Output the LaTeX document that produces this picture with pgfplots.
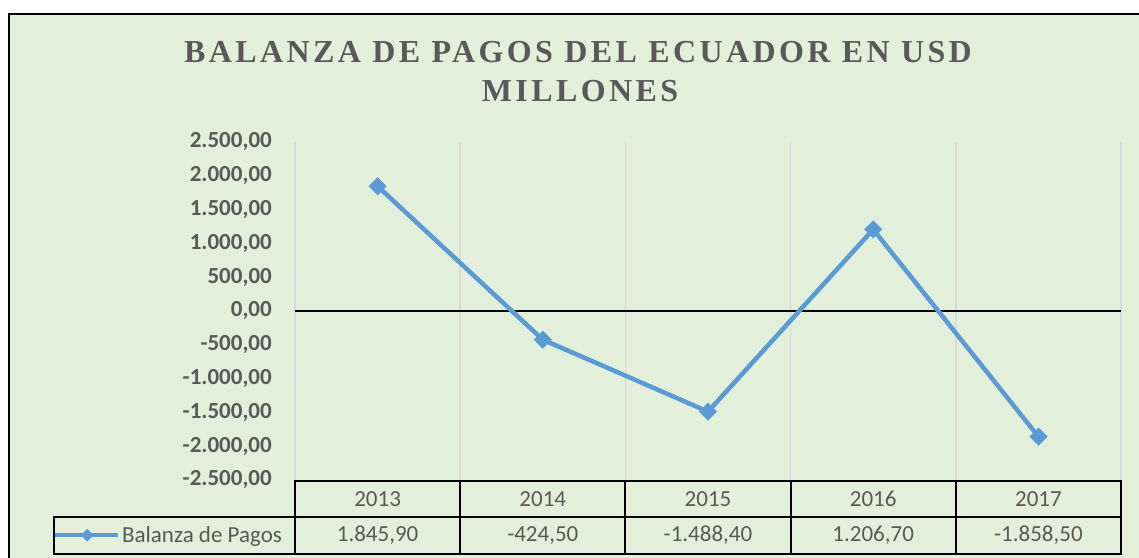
\documentclass[border=0pt]{standalone}
\usepackage{fontspec}
\setmainfont{Carlito}
\newfontfamily\titlefont[LetterSpace=10.6]{Liberation Serif}
\usepackage{pgfplots}
\pgfplotsset{compat=1.18}
\definecolor{chartGreen}{HTML}{E2EFDA}
\definecolor{lineBlue}{HTML}{5B9BD5}
\definecolor{textGrey}{HTML}{595959}
\definecolor{gridGrey}{HTML}{D9D9D9}

\begin{document}
\begin{tikzpicture}[x=1pt,y=1pt]
\useasboundingbox (0,0) rectangle (1139,557);
\fill[white] (0,0) rectangle (1139,557);
\begin{scope}
  \clip (0,0) rectangle (1139,557);
  \draw[line width=2pt, fill=chartGreen] (9,543) rectangle (1180,-20);
\end{scope}

% title
\node[anchor=base, text=textGrey, inner sep=0pt,
  font=\titlefont\bfseries\fontsize{32}{38}\selectfont] at (578,494) {BALANZA DE PAGOS DEL ECUADOR EN USD};
\node[anchor=base, text=textGrey, inner sep=0pt,
  font=\titlefont\bfseries\fontsize{32}{38}\selectfont] at (580,455) {MILLONES};

\begin{axis}[
  at={(295pt,77pt)}, anchor=south west,
  width=826pt, height=338pt, scale only axis,
  xmin=0.5, xmax=5.5, ymin=-2500, ymax=2500,
  axis line style={draw=none},
  xtick={0.5,1.5,...,5.5}, xticklabels={},
  xmajorgrids, major grid style={gridGrey, line width=1.5pt},
  ytick={-2500,-2000,...,2500},
  scaled y ticks=false,
  major tick length=0pt,
  yticklabel style={font=\fontsize{23}{27}\selectfont\bfseries, text=textGrey,
    anchor=east, inner sep=0pt, xshift=-23pt},
  /pgf/number format/fixed, /pgf/number format/fixed zerofill,
  /pgf/number format/precision=2, /pgf/number format/use comma,
  /pgf/number format/1000 sep={.}, /pgf/number format/assume math mode=true,
  extra y ticks={0}, extra y tick labels={},
  extra y tick style={grid=major, major grid style={black, line width=1.8pt}},
  clip=false,
  legend style={at={(-0.2942,-0.1635)}, anchor=west, draw=none, fill=none,
    inner sep=0pt, font=\fontsize{23}{27}\selectfont, text=textGrey,
    nodes={inner sep=0pt},
    /tikz/every odd column/.append style={column sep=2pt}},
  legend image code/.code={%
    \draw[mark repeat=2, mark phase=2, mark size=4.3pt, line width=4pt]
      plot coordinates {(0pt,0pt) (33pt,0pt) (64pt,0pt)};},
]
\addplot[color=lineBlue, line width=4.5pt, mark=square*,
  mark options={rotate=45, line width=0.3pt, solid}, mark size=6.2pt]
  coordinates {(1,1845.90) (2,-424.50) (3,-1488.40) (4,1206.70) (5,-1858.50)};
\addlegendentry{Balanza de Pagos}
\end{axis}

% data table
\begin{scope}[line width=2pt, line cap=rect]
  \draw (295,76) -- (1121,76);
  \draw (54,40.5) -- (1121,40.5);
  \draw (54,3) -- (1121,3);
  \draw (54,40.5) -- (54,3);
  \foreach \x in {295,460.2,625.4,790.6,955.8,1121} \draw (\x,76) -- (\x,3);
\end{scope}
\begin{scope}[every node/.style={text=textGrey, font=\fontsize{23}{27}\selectfont, inner sep=0pt}]
  \foreach \yr [count=\i] in {2013,2014,2015,2016,2017}
    \node at ({295+165.2*(\i-0.5)},58.25) {\yr};
  \foreach \v [count=\i] in {{1.845,90},{-424,50},{-1.488,40},{1.206,70},{-1.858,50}}
    \node at ({295+165.2*(\i-0.5)},21.75) {\v};
\end{scope}
\end{tikzpicture}
\end{document}
